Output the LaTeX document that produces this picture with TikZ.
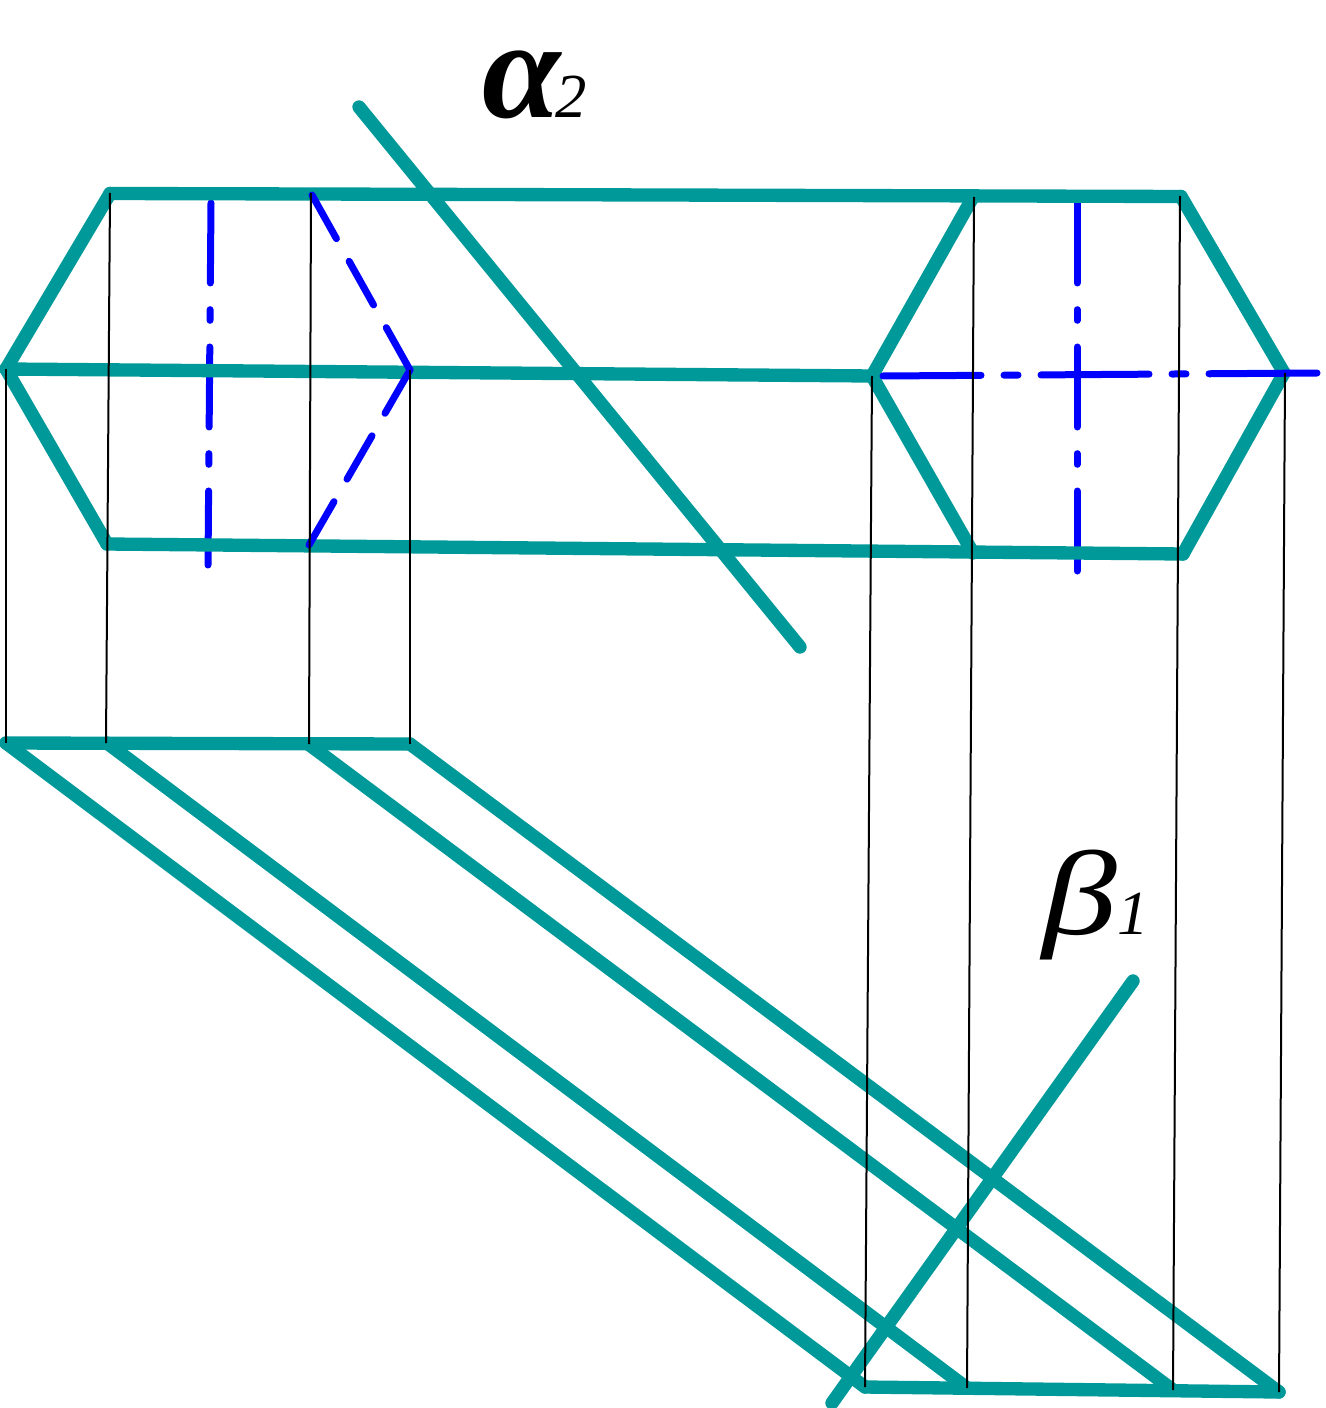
\documentclass[tikz,border=0pt]{standalone}
\usepackage{fontspec}
\setmainfont{Liberation Serif}
\definecolor{tealline}{RGB}{0,153,153}
\tikzset{every picture/.style={line width=0.75pt}}
\tikzset{
  outline/.style={color=tealline,line width=10pt,line cap=round},
  projline/.style={color=black,line width=1.5pt},
  axisline/.style={color=blue,line width=5.25pt,line cap=round,dash pattern=on 60pt off 20pt on 8pt off 20pt},
  axislong/.style={color=blue,line width=5.25pt,line cap=round,dash pattern=on 81pt off 17.25pt on 10.5pt off 17.25pt,dash phase=7.5pt},
  hiddenline/.style={color=blue,line width=5.25pt,line cap=round,dash pattern=on 37.5pt off 19.5pt},
  greeksign/.style={anchor=base west,inner sep=0pt}
}
\newcommand{\indexfont}{\fontsize{47}{47}\selectfont\mdseries\itshape}
\begin{document}
\begin{tikzpicture}[x=0.75pt,y=0.75pt,yscale=-1,xscale=1]
\useasboundingbox (0,0) rectangle (1326,1408);

%Axis Lines, under the outline
\draw [axisline] (211,203) -- (208,565) ;
\draw [axisline] (1077,203) -- (1077,574) ;

%Outline Left
\draw [outline] (6,369) -- (110,193.5) ;
\draw [outline] (6,369) -- (107,544) ;
%Outline Long Edges
\draw [outline] (110,193.5) -- (311,194) -- (1181,196.5) ;
\draw [outline] (6,369) -- (872,376) ;
\draw [outline] (107,544) -- (1183,554) ;
%Outline Right
\draw [outline] (872,376) -- (973,197) ;
\draw [outline] (872,376) -- (973,553) ;
\draw [outline] (1181,196.5) -- (1284,373) ;
\draw [outline] (1284,373) -- (1183,554) ;

%Cutting Plane Upper
\draw [outline] (359,107) -- (800,647) ;

%Hidden Edges
\draw [hiddenline] (312,195) -- (410,370) ;
\draw [hiddenline] (410,370) -- (309,545) ;
%Axis Line Right
\draw [axislong] (883,376) -- (1320,373) ;

%Lower View
\draw [outline] (6,743) -- (410,744) ;
\draw [outline] (6,743) -- (865,1387) ;
\draw [outline] (107,743) -- (967,1388) ;
\draw [outline] (309,744.5) -- (1173,1390) ;
\draw [outline] (410,744) -- (1279,1392) ;
\draw [outline] (865,1387) -- (1279,1392) ;

%Cutting Plane Lower
\draw [outline] (1133,981) -- (832,1403) ;

%Projection Lines
\draw [projline] (6,369) -- (6,743) ;
\draw [projline] (110,193) -- (106,743) ;
\draw [projline] (311,193) -- (309,744) ;
\draw [projline] (410,370) -- (410,744) ;
\draw [projline] (872,376) -- (865,1387) ;
\draw [projline] (974,197) -- (967,1388) ;
\draw [projline] (1180,196) -- (1173,1390) ;
\draw [projline] (1285,373) -- (1279,1392) ;

% Text Node
\node (alphasign) [greeksign] at (482,118) {\fontsize{106}{106}\selectfont\bfseries\itshape α\kern-4pt\indexfont 2};
% Text Node
\node (betasign) [greeksign] at (1042,934) {\fontsize{90}{90}\selectfont\itshape\scalebox{1.25}[1]{β}\indexfont 1};
\end{tikzpicture}
\end{document}
